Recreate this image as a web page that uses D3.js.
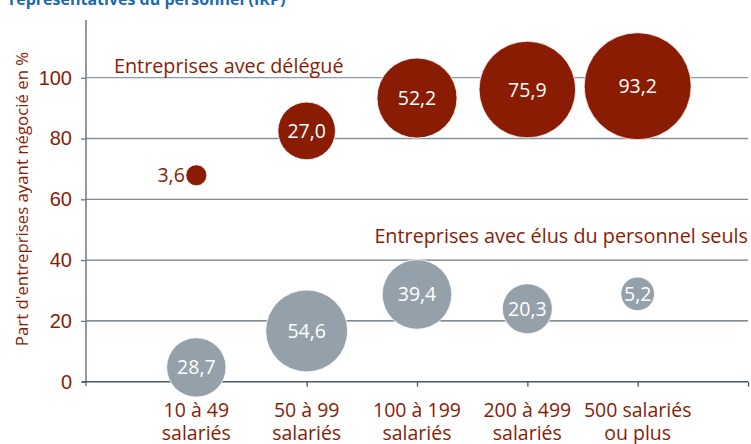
<!DOCTYPE html>
<html>
<head>
<meta charset="utf-8">
<script src="https://cdn.jsdelivr.net/npm/d3@7"></script>
<style>
  body { margin: 0; background: #fff; }
  svg { display: block; font-family: "Open Sans", "Noto Sans", sans-serif; }
</style>
</head>
<body>
<div id="chart"></div>
<script>
// tranches de taille
var categories = ["10 à 49|salariés", "50 à 99|salariés", "100 à 199|salariés", "200 à 499|salariés", "500 salariés|ou plus"];
// part d'entreprises ayant négocié (position verticale)
var delegueY = [67.9, 82.5, 93.3, 96.1, 97.2];
var elusY = [4.7, 16.7, 28.7, 24.0, 28.9];
// valeurs affichées dans les bulles (taille)
var delegueVal = [3.6, 27.0, 52.2, 75.9, 93.2];
var elusVal = [28.7, 54.6, 39.4, 20.3, 5.2];
var yTicks = [0, 20, 40, 60, 80, 100];

var width = 751, height = 444;
var red = "#8a1c04", grey = "#95a1aa";

var svg = d3.select("#chart").append("svg")
  .attr("width", width)
  .attr("height", height);

var x = d3.scaleLinear().domain([0, 6]).range([86, 748]);
var y = d3.scaleLinear().domain([0, 100]).range([381.7, 77.7]);
var r = d3.scaleSqrt().domain([0, 93.2]).range([0, 53.5]);

function fr(v) { return d3.format(".1f")(v).replace(".", ","); }

// titre (coupé en haut)
svg.append("text")
  .attr("x", 9).attr("y", 5)
  .style("font-size", "16px").style("font-weight", "bold")
  .style("fill", "#1b68b0")
  .text("représentatives du personnel (IRP)");

// grille
var gridCol = d3.scaleLinear().domain([0, 60, 100]).range(["#4a5866", "#7c8994", "#8e9aa4"]);
svg.append("g").selectAll("line")
  .data(yTicks.filter(function(d) { return d > 0; }))
  .enter().append("line")
    .attr("x1", x(0)).attr("x2", x(6))
    .attr("y1", function(d) { return y(d); })
    .attr("y2", function(d) { return y(d); })
    .style("stroke", function(d) { return gridCol(d); })
    .style("stroke-width", 1.3);

// axe Y
var yAxis = svg.append("g")
  .attr("transform", "translate(" + x(0) + ",0)")
  .call(d3.axisLeft(y).tickValues(yTicks).tickSize(5).tickPadding(9).tickSizeOuter(0));
yAxis.select(".domain").remove();
yAxis.selectAll("line").style("stroke", "#6b7883").style("stroke-width", 1.3);
yAxis.selectAll("text").style("font-size", "20px").style("fill", red).style("font-family", null);
svg.append("line")
  .attr("x1", x(0)).attr("x2", x(0))
  .attr("y1", 20).attr("y2", 386)
  .style("stroke", "#6b7883").style("stroke-width", 1.5);

// axe X
var xAxis = svg.append("g")
  .attr("transform", "translate(0," + y(0) + ")")
  .call(d3.axisBottom(x).tickValues([1, 2, 3, 4, 5, 6]).tickSize(5).tickFormat("").tickSizeOuter(0));
xAxis.select(".domain").attr("d", "M" + (x(0) - 4) + ",0H" + x(6)).style("stroke", "#4a5866").style("stroke-width", 1.5);
xAxis.selectAll("line").style("stroke", "#4a5866").style("stroke-width", 1.3);

// libellés catégories, une ligne = un texte
var lines = [];
categories.forEach(function(c, i) {
  c.split("|").forEach(function(p, j) { lines.push({ i: i, j: j, t: p }); });
});
svg.append("g").selectAll("text")
  .data(lines).enter().append("text")
  .attr("x", function(d) { return x(d.i + 1); })
  .attr("y", function(d) { return 417 + d.j * 22.5; })
  .attr("text-anchor", "middle")
  .style("font-size", "19.5px").style("fill", red)
  .text(function(d) { return d.t; });

// titre axe Y
svg.append("text")
  .attr("transform", "translate(28,199) rotate(-90)")
  .attr("text-anchor", "middle")
  .style("font-size", "16.8px").style("fill", red)
  .text("Part d'entreprises ayant négocié en %");

function drawSeries(ys, vals, col, cls) {
  var g = svg.append("g").attr("class", cls);
  var d = ys.map(function(v, i) { return { i: i, y: v, v: vals[i] }; });
  var outside = function(e) { return r(e.v) < 11; };
  // une bulle étiquetée à l'intérieur garde une taille minimale
  var rad = function(e) { return outside(e) ? r(e.v) : Math.max(r(e.v), 16.8); };
  g.selectAll("circle").data(d).enter().append("circle")
    .attr("cx", function(e) { return x(e.i + 1); })
    .attr("cy", function(e) { return y(e.y); })
    .attr("r", rad)
    .style("fill", col)
    .style("stroke", "#fff").style("stroke-width", 0.8);
  g.selectAll("text").data(d).enter().append("text")
    .attr("x", function(e) { return outside(e) ? x(e.i + 1) - r(e.v) - 1 : x(e.i + 1); })
    .attr("y", function(e) { return y(e.y); })
    .attr("dy", "0.36em")
    .attr("text-anchor", function(e) { return outside(e) ? "end" : "middle"; })
    .style("font-size", "19.5px")
    .style("fill", function(e) { return outside(e) ? red : "#fff"; })
    .text(function(e) { return fr(e.v); });
}
drawSeries(delegueY, delegueVal, red, "delegue");
drawSeries(elusY, elusVal, grey, "elus");

// noms des séries
svg.append("text")
  .attr("x", 114).attr("y", 73)
  .style("font-size", "19.8px").style("fill", red)
  .text("Entreprises avec délégué");
svg.append("text")
  .attr("x", 748).attr("y", 243)
  .attr("text-anchor", "end")
  .style("font-size", "19.8px").style("fill", red)
  .text("Entreprises avec élus du personnel seuls");
</script>
</body>
</html>
